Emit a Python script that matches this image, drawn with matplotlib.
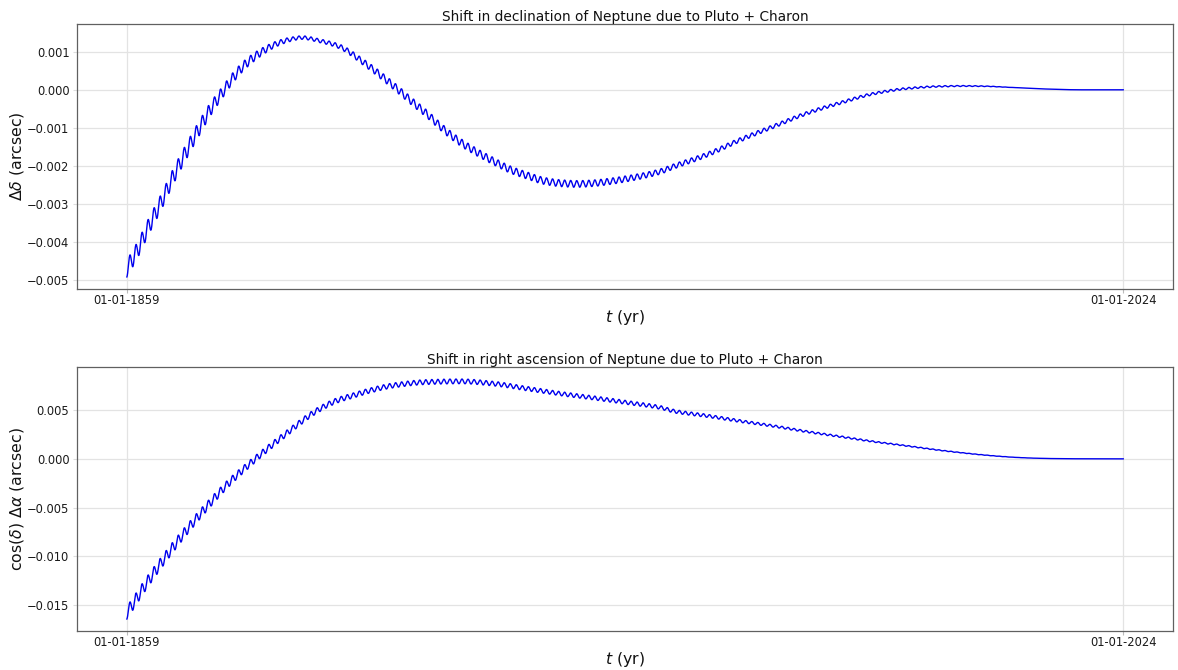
import numpy as np
import matplotlib
matplotlib.use("Agg")
import matplotlib.pyplot as plt

# ---------------- data ----------------
tick_years = [1859, 2024]
tick_labels = ["01-01-1859", "01-01-2024"]

# declination shift: smooth trend (1e-3 arcsec) at sample years
dec_years = [1859.0, 1860.6, 1862.6, 1864.7, 1866.7, 1868.7, 1870.8, 1872.8, 1874.9,
             1876.9, 1878.9, 1882.0, 1884.0, 1886.0, 1888.0, 1891.1, 1894.0, 1898.3,
             1903.2, 1906.0, 1908.8, 1911.5, 1914.3, 1917.0, 1919.8, 1922.6, 1925.3,
             1928.1, 1930.8, 1933.6, 1936.3, 1939.1, 1941.9, 1944.6, 1947.4, 1949.6,
             1955.1, 1960.6, 1966.1, 1971.7, 1977.2, 1982.7, 1988.2, 1993.7, 1997.6,
             2000.3, 2005.9, 2011.4, 2016.9, 2024.0]
dec_trend = [-4.69, -4.25, -3.59, -2.94, -2.27, -1.66, -1.06, -0.52, -0.05,
             0.38, 0.71, 1.06, 1.22, 1.32, 1.37, 1.28, 1.15, 0.71,
             0.10, -0.28, -0.65, -1.04, -1.38, -1.64, -1.88, -2.10, -2.25,
             -2.39, -2.45, -2.47, -2.45, -2.40, -2.33, -2.25, -2.14, -2.01,
             -1.70, -1.31, -0.96, -0.61, -0.34, -0.10, 0.035, 0.09, 0.10,
             0.096, 0.06, 0.02, 0.0, 0.0]
# half-amplitude of the yearly wiggle (1e-3 arcsec)
dec_amp_years = [1859, 1865, 1870, 1875, 1880, 1884, 1888, 1892, 1896, 1900, 1905,
                 1912, 1920, 1930, 1940, 1950, 1960, 1970, 1980, 1990, 2000, 2008, 2024]
dec_amp = [0.22, 0.21, 0.20, 0.15, 0.11, 0.07, 0.045, 0.05, 0.07, 0.09, 0.10,
           0.10, 0.095, 0.09, 0.08, 0.065, 0.055, 0.045, 0.035, 0.022, 0.01, 0.0, 0.0]

# right ascension shift: smooth trend (1e-3 arcsec)
ra_years = [1859.0, 1860.0, 1862.0, 1865.5, 1868.0, 1872.1, 1876.0, 1880.3, 1885.0,
            1890.6, 1893.9, 1896.6, 1899.4, 1903.2, 1908.7, 1914.3, 1919.8, 1925.3,
            1930.8, 1936.3, 1941.9, 1947.4, 1949.6, 1955.1, 1960.6, 1966.1, 1971.7,
            1977.2, 1982.7, 1988.2, 1993.7, 2000.0, 2005.0, 2010.0, 2015.0, 2024.0]
ra_trend = [-15.8, -14.9, -13.0, -10.0, -8.0, -5.0, -2.4, 0.0, 2.4,
            5.0, 6.02, 6.53, 7.04, 7.55, 7.89, 7.96, 7.72, 7.21,
            6.70, 6.26, 5.78, 5.27, 4.90, 4.42, 3.88, 3.37, 2.79,
            2.28, 1.77, 1.33, 0.88, 0.45, 0.20, 0.06, 0.01, 0.0]
ra_amp_years = [1859, 1865, 1870, 1875, 1880, 1890, 1900, 1915, 1930, 1945, 1955,
                1965, 1975, 1985, 1995, 2005, 2015, 2024]
ra_amp = [0.65, 0.58, 0.50, 0.42, 0.35, 0.28, 0.25, 0.24, 0.21, 0.19, 0.16,
          0.12, 0.09, 0.06, 0.035, 0.012, 0.0, 0.0]


def pchip(xk, yk, x):
    xk = np.asarray(xk, float)
    yk = np.asarray(yk, float)
    h = np.diff(xk)
    delta = np.diff(yk) / h
    n = len(xk)
    m = np.zeros(n)
    for i in range(1, n - 1):
        if delta[i - 1] * delta[i] > 0:
            w1 = 2 * h[i] + h[i - 1]
            w2 = h[i] + 2 * h[i - 1]
            m[i] = (w1 + w2) / (w1 / delta[i - 1] + w2 / delta[i])
    m[0] = delta[0]
    m[-1] = delta[-1]
    idx = np.clip(np.searchsorted(xk, x) - 1, 0, n - 2)
    t = (x - xk[idx]) / h[idx]
    h00 = 2 * t**3 - 3 * t**2 + 1
    h10 = t**3 - 2 * t**2 + t
    h01 = -2 * t**3 + 3 * t**2
    h11 = t**3 - t**2
    return (h00 * yk[idx] + h10 * h[idx] * m[idx] +
            h01 * yk[idx + 1] + h11 * h[idx] * m[idx + 1])


t = np.linspace(tick_years[0], tick_years[1], 165 * 40 + 1)
phase = np.cos(2 * np.pi * (t - tick_years[0]))
dec = (pchip(dec_years, dec_trend, t) - pchip(dec_amp_years, dec_amp, t) * phase) * 1e-3
ra = (pchip(ra_years, ra_trend, t) - pchip(ra_amp_years, ra_amp, t) * phase) * 1e-3

# ---------------- figure ----------------
plt.rcParams['font.family'] = ['DejaVu Sans']
plt.rcParams['mathtext.fontset'] = 'dejavusans'

fig = plt.figure(figsize=(11.78, 6.70), dpi=100)
ax1 = fig.add_axes([0.0654, 0.5687, 0.9304, 0.3955])
ax2 = fig.add_axes([0.0654, 0.0582, 0.9304, 0.3940])

panels = [
    (ax1, dec, "Shift in declination of Neptune due to Pluto + Charon",
     r"$\mathit{\Delta\delta}$ (arcsec)"),
    (ax2, ra, "Shift in right ascension of Neptune due to Pluto + Charon",
     r"$\cos(\delta)$ $\mathit{\Delta\alpha}$ (arcsec)"),
]

for ax, y, title, ylabel in panels:
    ax.plot(t, y, color='#0000ee', lw=1.0)
    ax.set_title(title, fontsize=9.9, color='#111111', pad=2.5)
    ax.set_xlabel(r"$t$ (yr)", fontsize=11.3, color='#111111', labelpad=1)
    ax.set_ylabel(ylabel, fontsize=11.3, color='#111111', labelpad=1)
    ax.set_xticks(tick_years)
    ax.set_xticklabels(tick_labels)
    ax.grid(True, color='#e3e3e3', lw=0.9)
    ax.set_axisbelow(True)
    ax.tick_params(axis='x', labelsize=8.3, length=3, width=0.8, color='#bbbbbb',
                   pad=0.5, labelcolor='#1a1a1a')
    ax.tick_params(axis='y', labelsize=8.3, length=3, width=0.8, color='#dddddd',
                   pad=2.5, labelcolor='#1a1a1a')
    for s in ax.spines.values():
        s.set_color('#606060')
        s.set_linewidth(0.9)

fig.savefig("out.png", dpi=100)
